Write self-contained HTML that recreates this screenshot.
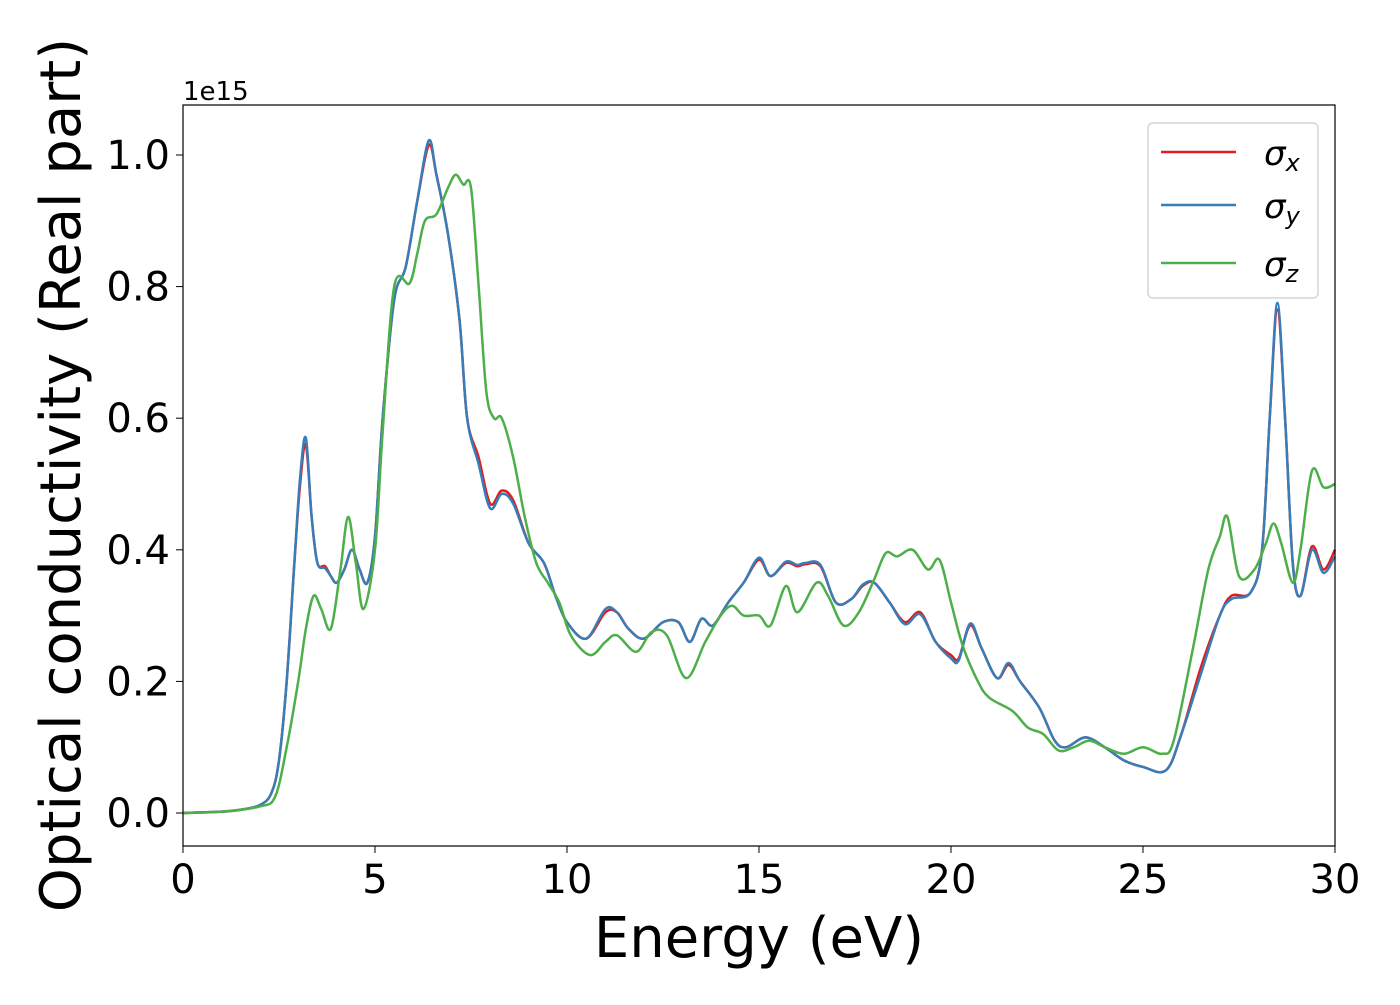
<!DOCTYPE html>
<html><head><meta charset="utf-8"><style>
body{margin:0;background:#fff}
svg{font-family:"DejaVu Sans","Liberation Sans",sans-serif}
</style></head><body>
<svg id="chart" width="1400" height="1000" viewBox="0 0 1400 1000" xmlns="http://www.w3.org/2000/svg">
<rect width="1400" height="1000" fill="#fff"/>
<g id="series"></g>
<rect x="183" y="105" width="1152" height="741" fill="none" stroke="#000" stroke-width="1.2"/>
<g id="xticks"></g>
<g id="yticks"></g>
<text x="183" y="100" font-size="26">1e15</text>
<text x="759" y="957" font-size="56" text-anchor="middle">Energy (eV)</text>
<text transform="translate(80,475) rotate(-90)" font-size="56" text-anchor="middle">Optical conductivity (Real part)</text>
<g>
<rect x="1148" y="123" width="170" height="175" rx="5" fill="#fff" fill-opacity="0.8" stroke="#ccc" stroke-width="1.2"/>
<line x1="1161" y1="152" x2="1236" y2="152" stroke="#e41a1c" stroke-width="2.5"/>
<line x1="1161" y1="205" x2="1236" y2="205" stroke="#377eb8" stroke-width="2.5"/>
<line x1="1161" y1="263" x2="1236" y2="263" stroke="#4daf4a" stroke-width="2.5"/>
<text x="1264" y="165" font-size="34" font-style="italic">σ<tspan font-size="24" dy="6">x</tspan></text>
<text x="1264" y="218" font-size="34" font-style="italic">σ<tspan font-size="24" dy="6">y</tspan></text>
<text x="1264" y="276" font-size="34" font-style="italic">σ<tspan font-size="24" dy="6">z</tspan></text>
</g>
</svg>
<script>
const xTicks=[0,5,10,15,20,25,30];
const yTicks=[0.0,0.2,0.4,0.6,0.8,1.0];
const eXY=[0,1,1.5,2,2.3,2.5,2.7,2.9,3.05,3.2,3.35,3.5,3.7,3.85,4.0,4.2,4.4,4.6,4.8,5.0,5.2,5.5,5.8,6.1,6.4,6.6,6.9,7.2,7.4,7.7,8.0,8.3,8.6,9.0,9.4,9.7,10.0,10.5,11.0,11.3,11.6,12.0,12.5,12.9,13.2,13.5,13.8,14.2,14.6,15.0,15.3,15.7,16.0,16.2,16.6,17.0,17.4,17.7,18.0,18.4,18.8,19.2,19.6,20.0,20.2,20.5,20.8,21.2,21.5,21.8,22.3,22.7,23.0,23.5,24.0,24.5,25.0,25.6,26.0,26.5,27.0,27.3,27.8,28.1,28.3,28.5,28.7,28.9,29.1,29.4,29.7,30];
const sigX=[0,0.002,0.005,0.012,0.03,0.08,0.2,0.38,0.5,0.56,0.45,0.38,0.375,0.36,0.35,0.37,0.4,0.37,0.35,0.42,0.6,0.78,0.83,0.93,1.015,0.97,0.88,0.75,0.6,0.54,0.47,0.49,0.475,0.41,0.38,0.33,0.29,0.265,0.305,0.305,0.28,0.265,0.29,0.29,0.26,0.295,0.285,0.32,0.35,0.385,0.36,0.38,0.375,0.378,0.375,0.32,0.325,0.345,0.35,0.32,0.29,0.305,0.26,0.24,0.235,0.285,0.25,0.205,0.225,0.2,0.16,0.11,0.1,0.115,0.1,0.08,0.07,0.065,0.12,0.22,0.3,0.33,0.335,0.4,0.6,0.765,0.6,0.38,0.33,0.405,0.37,0.4];
const sigY=[0,0.002,0.005,0.012,0.03,0.08,0.2,0.38,0.51,0.57,0.45,0.38,0.372,0.36,0.35,0.37,0.4,0.37,0.35,0.42,0.6,0.78,0.83,0.93,1.022,0.97,0.88,0.75,0.6,0.53,0.463,0.485,0.47,0.41,0.38,0.33,0.29,0.265,0.31,0.305,0.28,0.265,0.29,0.29,0.26,0.295,0.285,0.32,0.35,0.388,0.36,0.382,0.377,0.38,0.377,0.32,0.325,0.347,0.35,0.32,0.287,0.302,0.26,0.235,0.232,0.288,0.25,0.205,0.228,0.2,0.16,0.11,0.1,0.115,0.1,0.08,0.07,0.065,0.12,0.21,0.3,0.325,0.335,0.4,0.6,0.775,0.6,0.38,0.33,0.4,0.365,0.39];
const eZ=[0,1,2,2.4,2.7,3.0,3.2,3.4,3.6,3.85,4.1,4.3,4.5,4.7,5.0,5.2,5.5,5.9,6.1,6.3,6.6,6.9,7.1,7.3,7.5,7.7,7.9,8.1,8.3,8.6,8.9,9.2,9.5,9.8,10.1,10.6,11.0,11.3,11.8,12.2,12.6,13.1,13.6,14.0,14.3,14.6,15.0,15.3,15.7,16.0,16.5,16.8,17.2,17.6,18.0,18.3,18.6,19.0,19.4,19.7,20.0,20.3,20.7,21.0,21.6,22.0,22.4,22.8,23.2,23.6,24.0,24.5,25.0,25.5,25.8,26.3,26.7,27.0,27.2,27.5,27.9,28.2,28.4,28.6,28.9,29.1,29.4,29.7,30];
const sigZ=[0,0.002,0.01,0.025,0.1,0.2,0.28,0.33,0.31,0.28,0.37,0.45,0.38,0.31,0.4,0.58,0.8,0.805,0.85,0.9,0.91,0.95,0.97,0.955,0.95,0.8,0.64,0.6,0.6,0.54,0.45,0.38,0.35,0.32,0.27,0.24,0.26,0.27,0.245,0.275,0.27,0.205,0.26,0.3,0.315,0.3,0.3,0.285,0.345,0.305,0.35,0.33,0.285,0.305,0.355,0.395,0.39,0.4,0.37,0.385,0.32,0.255,0.2,0.175,0.155,0.13,0.12,0.095,0.1,0.11,0.1,0.09,0.1,0.09,0.11,0.25,0.37,0.42,0.45,0.36,0.37,0.41,0.44,0.41,0.35,0.4,0.52,0.495,0.5];
const NS="http://www.w3.org/2000/svg";
const X=v=>183+v*(1152/30), Y=v=>813-v*658;
function path(xs,ys){
  const p=xs.map((x,i)=>[X(x),Y(ys[i])]);
  let d="M"+p[0][0]+","+p[0][1];
  for(let i=0;i<p.length-1;i++){
    const p0=p[Math.max(0,i-1)],p1=p[i],p2=p[i+1],p3=p[Math.min(p.length-1,i+2)];
    const c1=[p1[0]+(p2[0]-p0[0])/6,p1[1]+(p2[1]-p0[1])/6];
    const c2=[p2[0]-(p3[0]-p1[0])/6,p2[1]-(p3[1]-p1[1])/6];
    d+=" C"+c1+" "+c2+" "+p2;
  }
  return d;
}
const g=document.getElementById("series");
[[eXY,sigX,"#e41a1c","series-sigma-x"],[eXY,sigY,"#377eb8","series-sigma-y"],[eZ,sigZ,"#4daf4a","series-sigma-z"]].forEach(s=>{
  const el=document.createElementNS(NS,"path");
  el.setAttribute("d",path(s[0],s[1]));
  el.setAttribute("fill","none");el.setAttribute("stroke",s[2]);el.setAttribute("stroke-width","2.5");
  
  
  g.appendChild(el);
});
const xg=document.getElementById("xticks");
xTicks.forEach(t=>{
  const l=document.createElementNS(NS,"line");
  l.setAttribute("x1",X(t));l.setAttribute("x2",X(t));l.setAttribute("y1",846);l.setAttribute("y2",853);l.setAttribute("stroke","#000");
  
  
  xg.appendChild(l);
  const tx=document.createElementNS(NS,"text");
  tx.setAttribute("x",X(t));tx.setAttribute("y",893);tx.setAttribute("font-size","40");tx.setAttribute("text-anchor","middle");
  tx.textContent=t;
  
  
  xg.appendChild(tx);
});
const yg=document.getElementById("yticks");
yTicks.forEach(t=>{
  const l=document.createElementNS(NS,"line");
  l.setAttribute("x1",176);l.setAttribute("x2",183);l.setAttribute("y1",Y(t));l.setAttribute("y2",Y(t));l.setAttribute("stroke","#000");
  
  
  yg.appendChild(l);
  const tx=document.createElementNS(NS,"text");
  tx.setAttribute("x",170);tx.setAttribute("y",Y(t)+14);tx.setAttribute("font-size","40");tx.setAttribute("text-anchor","end");
  tx.textContent=t.toFixed(1);
  
  
  yg.appendChild(tx);
});
</script>
</body></html>
